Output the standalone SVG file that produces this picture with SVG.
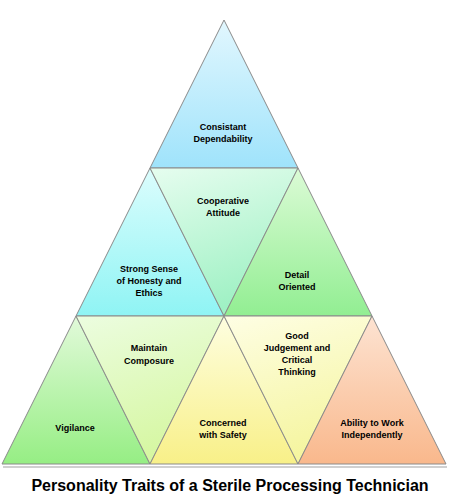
<svg xmlns="http://www.w3.org/2000/svg" width="451" height="499" viewBox="0 0 451 499">
<style>
.t{stroke:#8a8a8a;stroke-width:1;stroke-linejoin:round}
.l{font-family:"Liberation Sans",Arial,sans-serif;font-size:9px;font-weight:bold;fill:#000;text-anchor:middle}
.title{font-family:"Liberation Sans",Arial,sans-serif;font-size:16px;font-weight:bold;fill:#000;text-anchor:middle}
</style>
<defs>
<linearGradient id="gBlue" x1="0" y1="0" x2="0" y2="1"><stop offset="0" stop-color="#e2f7fe"/><stop offset="1" stop-color="#9fe3fb"/></linearGradient>
<linearGradient id="gCyan" x1="0" y1="0" x2="0" y2="1"><stop offset="0" stop-color="#dcfdfd"/><stop offset="1" stop-color="#8ff4f4"/></linearGradient>
<linearGradient id="gMint" x1="0" y1="0" x2="0.3" y2="1"><stop offset="0" stop-color="#e6fdef"/><stop offset="1" stop-color="#9ff1c4"/></linearGradient>
<linearGradient id="gGreen" x1="0" y1="0" x2="0" y2="1"><stop offset="0" stop-color="#dcfbd6"/><stop offset="1" stop-color="#92ee92"/></linearGradient>
<linearGradient id="gGreen2" x1="0" y1="0" x2="0" y2="1"><stop offset="0" stop-color="#e2fada"/><stop offset="1" stop-color="#96ee84"/></linearGradient>
<linearGradient id="gLime" x1="0" y1="0" x2="0.3" y2="1"><stop offset="0" stop-color="#ecfde0"/><stop offset="1" stop-color="#d6f7a2"/></linearGradient>
<linearGradient id="gYellow" x1="0" y1="0" x2="0" y2="1"><stop offset="0" stop-color="#fefee0"/><stop offset="1" stop-color="#f8f088"/></linearGradient>
<linearGradient id="gYellow2" x1="0" y1="0" x2="0.3" y2="1"><stop offset="0" stop-color="#fefee4"/><stop offset="1" stop-color="#f5f5a0"/></linearGradient>
<linearGradient id="gPeach" x1="0" y1="0" x2="0" y2="1"><stop offset="0" stop-color="#fde3d2"/><stop offset="1" stop-color="#f9b88c"/></linearGradient>
</defs>
<line x1="3" y1="467" x2="447" y2="467" stroke="#d0d0d0" stroke-width="2"/>
<g id="consistant"><polygon class="t" fill="url(#gBlue)" points="224,20 150,168 298,168"/><text class="l" x="223" y="130">Consistant</text><text class="l" x="223" y="142">Dependability</text></g>
<g id="honesty"><polygon class="t" fill="url(#gCyan)" points="150,168 76,316 224,316"/><text class="l" x="149" y="272">Strong Sense</text><text class="l" x="149" y="284">of Honesty and</text><text class="l" x="149" y="296">Ethics</text></g>
<g id="cooperative"><polygon class="t" fill="url(#gMint)" points="150,168 298,168 224,316"/><text class="l" x="223" y="204">Cooperative</text><text class="l" x="223" y="216">Attitude</text></g>
<g id="detail"><polygon class="t" fill="url(#gGreen)" points="298,168 224,316 372,316"/><text class="l" x="297" y="278">Detail</text><text class="l" x="297" y="290">Oriented</text></g>
<g id="vigilance"><polygon class="t" fill="url(#gGreen2)" points="76,316 2,464 150,464"/><text class="l" x="75" y="431">Vigilance</text></g>
<g id="composure"><polygon class="t" fill="url(#gLime)" points="76,316 224,316 150,464"/><text class="l" x="149" y="351">Maintain</text><text class="l" x="149" y="364">Composure</text></g>
<g id="safety"><polygon class="t" fill="url(#gYellow)" points="224,316 150,464 298,464"/><text class="l" x="223" y="426">Concerned</text><text class="l" x="223" y="438">with Safety</text></g>
<g id="judgement"><polygon class="t" fill="url(#gYellow2)" points="224,316 372,316 298,464"/><text class="l" x="297" y="339">Good</text><text class="l" x="297" y="351">Judgement and</text><text class="l" x="297" y="363">Critical</text><text class="l" x="297" y="375">Thinking</text></g>
<g id="independent"><polygon class="t" fill="url(#gPeach)" points="372,316 298,464 446,464"/><text class="l" x="372" y="426">Ability to Work</text><text class="l" x="372" y="438">Independently</text></g>
<text class="title" x="230" y="491">Personality Traits of a Sterile Processing Technician</text>
</svg>
